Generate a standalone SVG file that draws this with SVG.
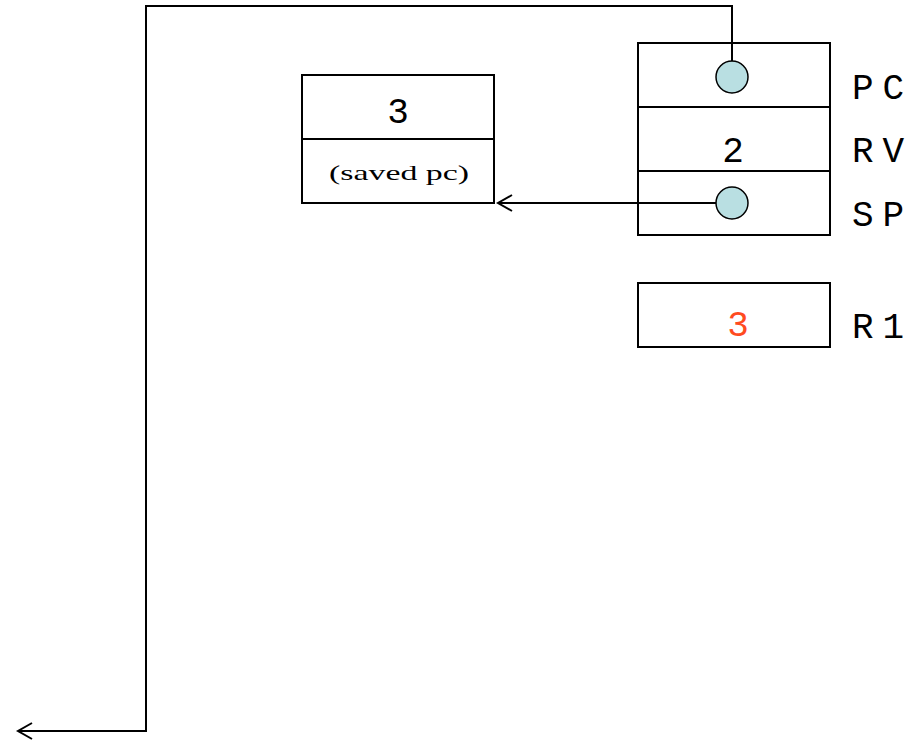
<svg xmlns="http://www.w3.org/2000/svg" width="920" height="742" viewBox="0 0 920 742">
<style>
.box{fill:#fff;stroke:#000;stroke-width:2}
.dot{fill:#b9dfe2;stroke:#000;stroke-width:1.5}
.mono{font-family:"Liberation Mono","Courier New",monospace;font-size:36px;fill:#000}
.lbl{font-family:"Liberation Mono","Courier New",monospace;font-size:36px;fill:#000;letter-spacing:9px}
.ser{font-family:"Liberation Serif","Times New Roman",serif;font-size:22px;fill:#000}
.conn{fill:none;stroke:#000;stroke-width:2}
</style>
<defs>
<marker id="open" markerWidth="20" markerHeight="20" refX="15" refY="10" orient="auto" markerUnits="userSpaceOnUse">
<path d="M1,2 L15,10 L1,18" fill="none" stroke="#000" stroke-width="2"/>
</marker>
</defs>
<g id="saved">
<rect class="box" x="302" y="75" width="192" height="128"/>
<line x1="302" y1="139" x2="494" y2="139" stroke="#000" stroke-width="2"/>
<text class="mono" x="398" y="123" text-anchor="middle">3</text>
<text class="ser" x="329" y="180" textLength="140" lengthAdjust="spacingAndGlyphs">(saved pc)</text>
</g>
<g id="stack">
<rect class="box" x="638" y="43" width="192" height="192"/>
<line x1="638" y1="107" x2="830" y2="107" stroke="#000" stroke-width="2"/>
<line x1="638" y1="171" x2="830" y2="171" stroke="#000" stroke-width="2"/>
<text class="mono" x="733" y="162" text-anchor="middle">2</text>
</g>
<g id="r1">
<rect class="box" x="638" y="283" width="192" height="64"/>
<text class="mono" x="738" y="336" text-anchor="middle" style="fill:#ff4b1f">3</text>
</g>
<g id="labels">
<text class="lbl" x="852" y="99">PC</text>
<text class="lbl" x="852" y="162">RV</text>
<text class="lbl" x="852" y="226">SP</text>
<text class="lbl" x="852" y="338">R1</text>
</g>
<g id="connectors">
<path class="conn" d="M732,77 V6 H146 V731 H18" marker-end="url(#open)"/>
<path class="conn" d="M732,203 H498" marker-end="url(#open)"/>
</g>
<g id="pc-dot"><circle class="dot" cx="732" cy="77" r="16"/></g>
<g id="sp-dot"><circle class="dot" cx="732" cy="203" r="16"/></g>
</svg>
